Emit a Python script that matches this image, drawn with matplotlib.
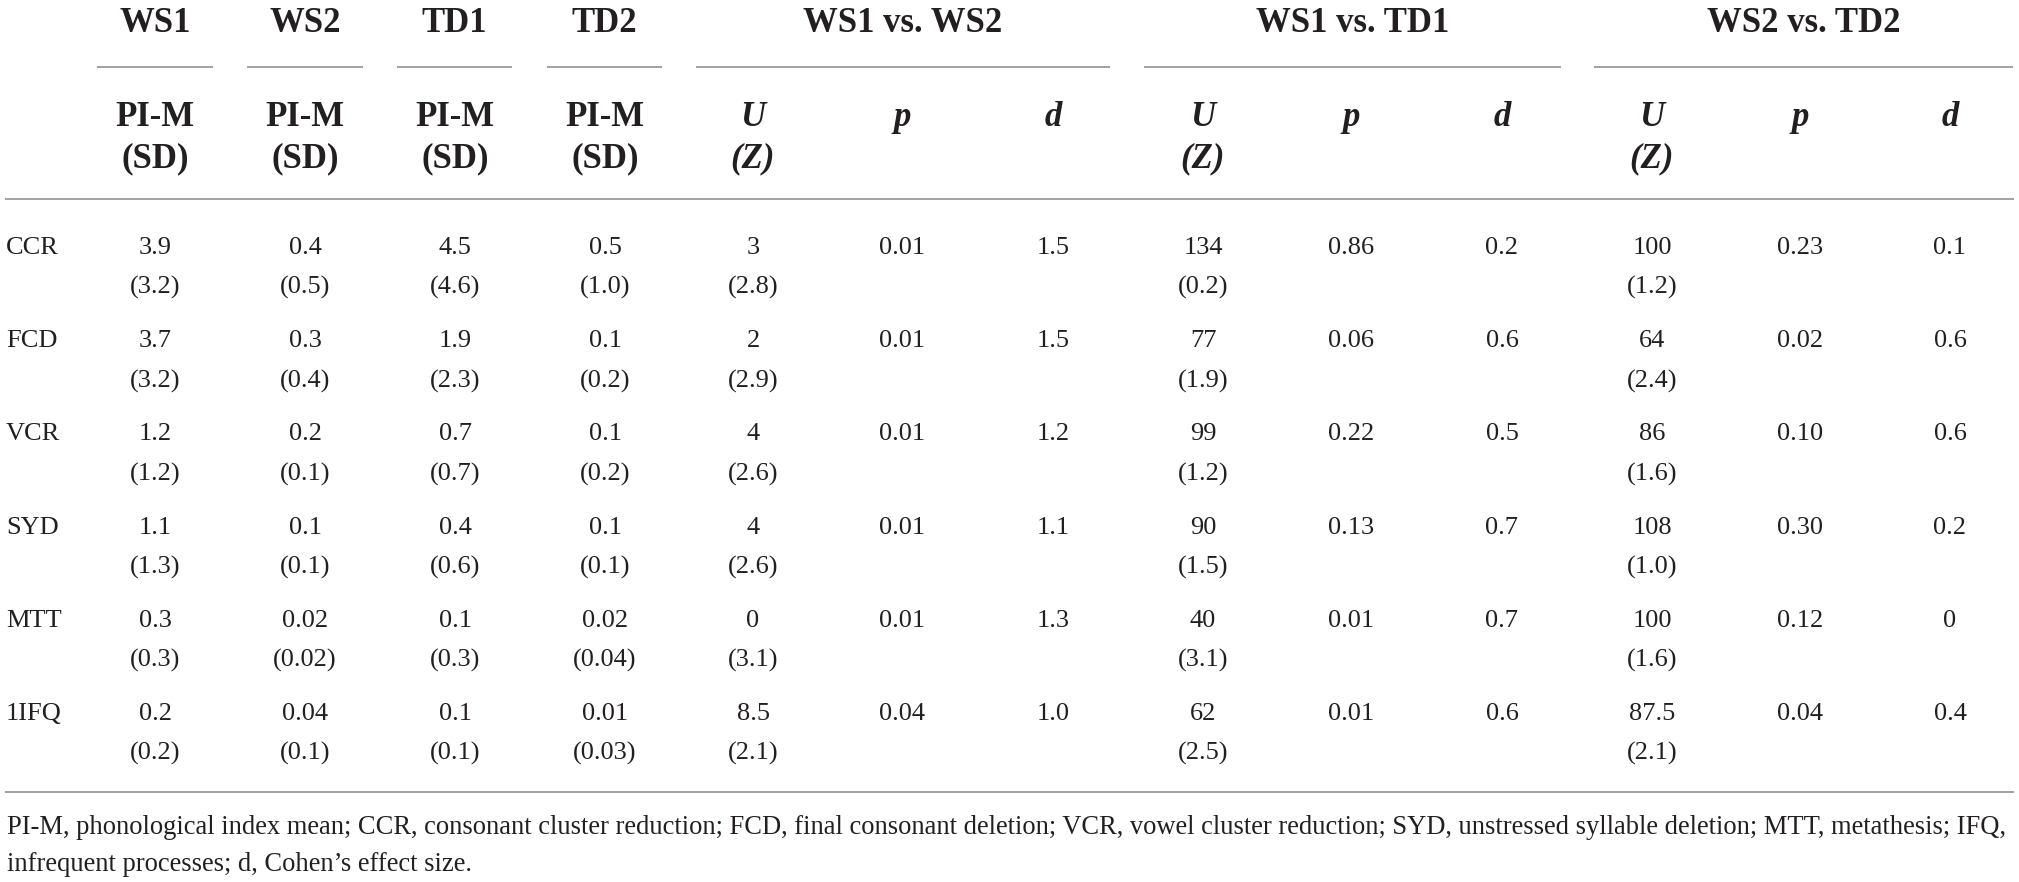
import matplotlib
matplotlib.use('Agg')
from matplotlib import pyplot as plt

FONT = ['Liberation Serif', 'DejaVu Serif']
TEXT_COLOR = '#231f20'
RULE_COLOR = '#9a9a9a'
W, H = 2019, 882

processes = ['CCR', 'FCD', 'VCR', 'SYD', 'MTT', '1IFQ']

ws1_mean = ['3.9', '3.7', '1.2', '1.1', '0.3', '0.2']
ws1_sd = ['3.2', '3.2', '1.2', '1.3', '0.3', '0.2']
ws2_mean = ['0.4', '0.3', '0.2', '0.1', '0.02', '0.04']
ws2_sd = ['0.5', '0.4', '0.1', '0.1', '0.02', '0.1']
td1_mean = ['4.5', '1.9', '0.7', '0.4', '0.1', '0.1']
td1_sd = ['4.6', '2.3', '0.7', '0.6', '0.3', '0.1']
td2_mean = ['0.5', '0.1', '0.1', '0.1', '0.02', '0.01']
td2_sd = ['1.0', '0.2', '0.2', '0.1', '0.04', '0.03']

ws1_ws2_u = ['3', '2', '4', '4', '0', '8.5']
ws1_ws2_z = ['2.8', '2.9', '2.6', '2.6', '3.1', '2.1']
ws1_ws2_p = ['0.01', '0.01', '0.01', '0.01', '0.01', '0.04']
ws1_ws2_d = ['1.5', '1.5', '1.2', '1.1', '1.3', '1.0']

ws1_td1_u = ['134', '77', '99', '90', '40', '62']
ws1_td1_z = ['0.2', '1.9', '1.2', '1.5', '3.1', '2.5']
ws1_td1_p = ['0.86', '0.06', '0.22', '0.13', '0.01', '0.01']
ws1_td1_d = ['0.2', '0.6', '0.5', '0.7', '0.7', '0.6']

ws2_td2_u = ['100', '64', '86', '108', '100', '87.5']
ws2_td2_z = ['1.2', '2.4', '1.6', '1.0', '1.6', '2.1']
ws2_td2_p = ['0.23', '0.02', '0.10', '0.30', '0.12', '0.04']
ws2_td2_d = ['0.1', '0.6', '0.6', '0.2', '0', '0.4']

group_titles = ['WS1', 'WS2', 'TD1', 'TD2', 'WS1 vs. WS2', 'WS1 vs. TD1', 'WS2 vs. TD2']

footnote = [
    'PI-M, phonological index mean; CCR, consonant cluster reduction; FCD, final consonant deletion; '
    'VCR, vowel cluster reduction; SYD, unstressed syllable deletion; MTT, metathesis; IFQ,',
    'infrequent processes; d, Cohen\u2019s effect size.',
]

# layout (pixel coordinates, y grows downwards)
group_spans = [(97, 213), (247, 363), (397, 512), (547, 662), (696, 1110), (1144, 1561), (1594, 2013)]
desc_cols = [155, 305, 455, 605]
stat_cols = [(753, 902, 1053), (1203, 1351, 1502), (1652, 1800, 1950)]
row_top = 254
row_step = 93.2
sub_gap = 40

DATA_SIZE = 19
HEAD_SIZE = 25
NOTE_SIZE = 19.1

fig = plt.figure(figsize=(W / 100, H / 100), dpi=100)
ax = fig.add_axes([0, 0, 1, 1])
ax.set_xlim(0, W)
ax.set_ylim(H, 0)
ax.axis('off')


def txt(x, y, s, size=DATA_SIZE, ha='center', **kw):
    ax.text(x, y, s, fontsize=size, ha=ha, va='baseline', family=FONT, color=TEXT_COLOR, **kw)


def rule(x0, x1, y):
    ax.plot([x0, x1], [y, y], color=RULE_COLOR, lw=1.3, solid_capstyle='butt')


# header
for title, (x0, x1) in zip(group_titles, group_spans):
    txt((x0 + x1) / 2, 32, title, size=HEAD_SIZE, weight='bold')
    rule(x0, x1, 67)

for x in desc_cols:
    txt(x, 126, 'PI-M', size=HEAD_SIZE, weight='bold')
    txt(x, 167, '(SD)', size=HEAD_SIZE, weight='bold')

for xu, xp, xd in stat_cols:
    txt(xu, 126, 'U', size=HEAD_SIZE, weight='bold', style='italic')
    txt(xu, 167, '(Z)', size=HEAD_SIZE, weight='bold', style='italic')
    txt(xp, 126, 'p', size=HEAD_SIZE, weight='bold', style='italic')
    txt(xd, 126, 'd', size=HEAD_SIZE, weight='bold', style='italic')

rule(5, 2014, 199)

# body
paired = [(ws1_mean, ws1_sd), (ws2_mean, ws2_sd), (td1_mean, td1_sd), (td2_mean, td2_sd)]
tests = [
    (ws1_ws2_u, ws1_ws2_z, ws1_ws2_p, ws1_ws2_d),
    (ws1_td1_u, ws1_td1_z, ws1_td1_p, ws1_td1_d),
    (ws2_td2_u, ws2_td2_z, ws2_td2_p, ws2_td2_d),
]

for i, name in enumerate(processes):
    y = row_top + i * row_step
    txt(6, y, name, ha='left')
    for x, (mean, sd) in zip(desc_cols, paired):
        txt(x, y, mean[i])
        txt(x, y + sub_gap, f'({sd[i]})')
    for (xu, xp, xd), (u, z, p, d) in zip(stat_cols, tests):
        txt(xu, y, u[i])
        txt(xu, y + sub_gap, f'({z[i]})')
        txt(xp, y, p[i])
        txt(xd, y, d[i])

rule(5, 2014, 792)

# footnote
txt(7, 834, footnote[0], size=NOTE_SIZE, ha='left')
txt(7, 871, footnote[1], size=NOTE_SIZE, ha='left')

fig.savefig('out.png', dpi=100)
